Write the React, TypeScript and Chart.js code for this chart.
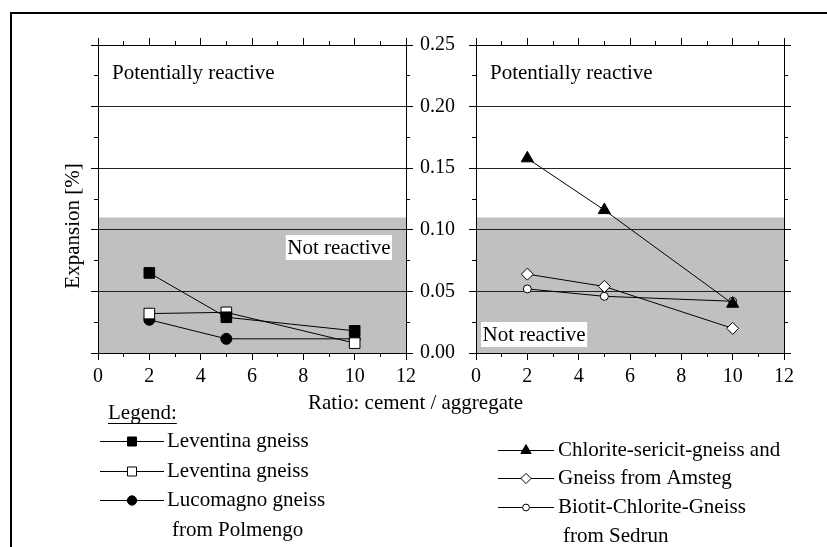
import React, { useEffect, useRef } from 'react';
import { Chart, registerables } from 'chart.js';
import { drawPoint } from 'chart.js/helpers';

Chart.register(...registerables);

// ---------- data ----------
const RATIOS = [2, 5, 10];

const LEVENTINA_FILLED = [0.065, 0.029, 0.018];
const LEVENTINA_OPEN = [0.032, 0.033, 0.008];
const LUCOMAGNO = [0.027, 0.0115, 0.0115];

const CHLORITE_SERICIT = [0.158, 0.116, 0.04];
const GNEISS_AMSTEG = [0.064, 0.054, 0.02];
const BIOTIT_SEDRUN = [0.052, 0.046, 0.042];

const LEFT_LABELS = [['Leventina gneiss'], ['Leventina gneiss'], ['Lucomagno gneiss', 'from Polmengo']];
const RIGHT_LABELS = [['Chlorite-sericit-gneiss and'], ['Gneiss from Amsteg'], ['Biotit-Chlorite-Gneiss', 'from Sedrun']];

const X_MIN = 0;
const X_MAX = 12;
const X_MAJOR = 2;
const X_MINOR = 1;
const Y_MIN = 0;
const Y_MAX = 0.25;
const Y_MAJOR = 0.05;
const Y_MINOR = 0.025;
const NOT_REACTIVE_LIMIT = 0.11;

const TEXT_REACTIVE = 'Potentially reactive';
const TEXT_NOT_REACTIVE = 'Not reactive';
const Y_TITLE = 'Expansion [%]';
const X_TITLE = 'Ratio: cement / aggregate';
const LEGEND_TITLE = 'Legend:';

// ---------- styling / layout ----------
const W = 827;
const H = 547;
const PLOT_TOP = 45;
const PLOT_BOTTOM = 353;
const FONT = '"Liberation Serif", "Times New Roman", serif';
const TICK_FONT_SIZE = 20;
const TEXT_FONT = `21px ${FONT}`;
const BAND = '#c0c0c0';
const GRID = '#222';

const zeroSize = (s: any) => {
  if (s.isHorizontal()) s.height = 0;
  else s.width = 0;
  s.paddingLeft = 0;
  s.paddingRight = 0;
  s.paddingTop = 0;
  s.paddingBottom = 0;
};

function axis(position: string, step: number, tickLength: number, labels: boolean, gridOnArea = false) {
  const horizontal = position === 'top' || position === 'bottom';
  return {
    type: 'linear',
    position,
    min: horizontal ? X_MIN : Y_MIN,
    max: horizontal ? X_MAX : Y_MAX,
    afterFit: zeroSize,
    grid: {
      display: true,
      drawOnChartArea: gridOnArea,
      drawTicks: true,
      tickLength,
      color: gridOnArea ? GRID : '#000',
      tickColor: '#000',
      lineWidth: 1,
    },
    border: { display: true, color: '#000', width: 1 },
    ticks: {
      display: labels,
      stepSize: step,
      autoSkip: false,
      maxRotation: 0,
      minRotation: 0,
      padding: horizontal ? 5 : 7,
      color: '#000',
      font: { family: FONT, size: TICK_FONT_SIZE },
      callback: (v: number) => (horizontal ? String(v) : v.toFixed(2)),
    },
  };
}

type Series = { labels: string[]; values: number[]; style: string; fill: string; radius: number };

type Panel = {
  left: number;
  right: number;
  series: Series[];
  yLabels: boolean;
  notReactive: 'upperRight' | 'lowerLeft';
  legend: { lineX0: number; lineX1: number; markerX: number; textX: number; contX: number; rows: number[]; contDy: number };
  decorations: boolean;
};

const LEFT_PANEL: Panel = {
  left: 98,
  right: 406,
  series: [
    { labels: LEFT_LABELS[0], values: LEVENTINA_FILLED, style: 'rect', fill: '#000', radius: 7.5 },
    { labels: LEFT_LABELS[1], values: LEVENTINA_OPEN, style: 'rect', fill: '#fff', radius: 7.5 },
    { labels: LEFT_LABELS[2], values: LUCOMAGNO, style: 'circle', fill: '#000', radius: 5.5 },
  ],
  yLabels: true,
  notReactive: 'upperRight',
  legend: { lineX0: 100, lineX1: 164, markerX: 132, textX: 167, contX: 172, rows: [441, 471, 500], contDy: 30 },
  decorations: true,
};

const RIGHT_PANEL: Panel = {
  left: 476,
  right: 784,
  series: [
    { labels: RIGHT_LABELS[0], values: CHLORITE_SERICIT, style: 'triangle', fill: '#000', radius: 7 },
    { labels: RIGHT_LABELS[1], values: GNEISS_AMSTEG, style: 'rectRot', fill: '#fff', radius: 6 },
    { labels: RIGHT_LABELS[2], values: BIOTIT_SEDRUN, style: 'circle', fill: '#fff', radius: 4 },
  ],
  yLabels: false,
  notReactive: 'lowerLeft',
  legend: { lineX0: 498, lineX1: 554, markerX: 526, textX: 558, contX: 563, rows: [450, 478, 507], contDy: 29 },
  decorations: false,
};

function makePlugin(panel: Panel) {
  return {
    id: 'panelDecor',
    afterLayout(chart: any) {
      // give labelled axes room so their tick labels are not clipped away
      const x = chart.scales.x;
      x.bottom = x.top + 50;
      const yr = chart.scales.yr;
      yr.right = yr.left + 80;
    },
    beforeDraw(chart: any) {
      const { ctx, chartArea } = chart;
      const y = chart.scales.y;
      const top = y.getPixelForValue(NOT_REACTIVE_LIMIT);
      const bottom = y.getPixelForValue(Y_MIN);
      ctx.save();
      ctx.fillStyle = BAND;
      ctx.fillRect(chartArea.left, top, chartArea.right - chartArea.left, bottom - top);
      ctx.restore();
    },
    afterDraw(chart: any) {
      const { ctx, chartArea } = chart;
      ctx.save();
      ctx.font = TEXT_FONT;
      ctx.fillStyle = '#000';
      ctx.textBaseline = 'middle';
      ctx.textAlign = 'left';
      // zone labels
      ctx.fillText(TEXT_REACTIVE, chartArea.left + 14, chartArea.top + 28);
      const tw = ctx.measureText(TEXT_NOT_REACTIVE).width;
      const bw = tw + 3;
      const bh = 25;
      let bx: number;
      let by: number;
      if (panel.notReactive === 'upperRight') {
        bx = chartArea.right - 14 - bw;
        by = chartArea.top + 190;
      } else {
        bx = chartArea.left + 5;
        by = chartArea.bottom - 6 - bh;
      }
      ctx.fillStyle = '#fff';
      ctx.fillRect(bx, by, bw, bh);
      ctx.fillStyle = '#000';
      ctx.fillText(TEXT_NOT_REACTIVE, bx + 1.5, by + bh / 2 + 1);

      // legend column
      const L = panel.legend;
      chart.data.datasets.forEach((ds: any, i: number) => {
        const ry = L.rows[i];
        ctx.strokeStyle = '#000';
        ctx.lineWidth = 1;
        ctx.beginPath();
        ctx.moveTo(L.lineX0, ry + 0.5);
        ctx.lineTo(L.lineX1, ry + 0.5);
        ctx.stroke();
        ctx.fillStyle = ds.pointBackgroundColor;
        ctx.strokeStyle = '#000';
        drawPoint(ctx, { pointStyle: ds.pointStyle, radius: ds.pointRadius * 0.85, borderWidth: 1, rotation: 0 }, L.markerX, ry + 0.5);
        ctx.fillStyle = '#000';
        const lines = panel.series[i].labels;
        lines.forEach((t, j) => {
          ctx.fillText(t, j === 0 ? L.textX : L.contX, ry + j * L.contDy);
        });
      });

      if (panel.decorations) {
        // frame
        ctx.strokeStyle = '#000';
        ctx.lineWidth = 2;
        ctx.beginPath();
        ctx.moveTo(W, 13);
        ctx.lineTo(11, 13);
        ctx.lineTo(11, H);
        ctx.stroke();
        // y title
        ctx.save();
        ctx.translate(73, 226);
        ctx.rotate(-Math.PI / 2);
        ctx.textAlign = 'center';
        ctx.fillText(Y_TITLE, 0, 0);
        ctx.restore();
        // x title
        ctx.textAlign = 'left';
        ctx.fillText(X_TITLE, 308, 403);
        // legend title
        ctx.fillText(LEGEND_TITLE, 108, 413);
        const lw = ctx.measureText(LEGEND_TITLE).width;
        ctx.lineWidth = 1;
        ctx.beginPath();
        ctx.moveTo(108, 423.5);
        ctx.lineTo(108 + lw, 423.5);
        ctx.stroke();
      }
      ctx.restore();
    },
  };
}

function buildConfig(panel: Panel): any {
  return {
    type: 'line',
    data: {
      datasets: panel.series.map((s) => ({
        label: s.labels.join(' '),
        data: RATIOS.map((x, i) => ({ x, y: s.values[i] })),
        borderColor: '#000',
        borderWidth: 1,
        pointStyle: s.style,
        pointRadius: s.radius,
        pointBackgroundColor: s.fill,
        pointBorderColor: '#000',
        pointBorderWidth: 1,
        fill: false,
        tension: 0,
        xAxisID: 'x',
        yAxisID: 'y',
      })),
    },
    options: {
      responsive: false,
      animation: false,
      events: [],
      devicePixelRatio: 1,
      layout: {
        padding: { left: panel.left, right: W - panel.right, top: PLOT_TOP, bottom: H - PLOT_BOTTOM },
      },
      plugins: { legend: { display: false }, tooltip: { enabled: false }, title: { display: false } },
      scales: {
        x: axis('bottom', X_MAJOR, 7, true),
        xb2: axis('bottom', X_MINOR, 4, false),
        xt: axis('top', X_MAJOR, 7, false),
        xt2: axis('top', X_MINOR, 4, false),
        y: axis('left', Y_MAJOR, 7, false, true),
        yl2: axis('left', Y_MINOR, 4, false),
        yr: axis('right', Y_MAJOR, 7, panel.yLabels),
        yr2: axis('right', Y_MINOR, 4, false),
      },
    },
    plugins: [makePlugin(panel)],
  };
}

export default function App() {
  const leftRef = useRef<HTMLCanvasElement>(null);
  const rightRef = useRef<HTMLCanvasElement>(null);
  useEffect(() => {
    const a = new Chart(leftRef.current as HTMLCanvasElement, buildConfig(LEFT_PANEL));
    const b = new Chart(rightRef.current as HTMLCanvasElement, buildConfig(RIGHT_PANEL));
    return () => {
      a.destroy();
      b.destroy();
    };
  }, []);
  const cs: React.CSSProperties = { position: 'absolute', left: 0, top: 0, width: W, height: H };
  return (
    <div style={{ position: 'absolute', left: 0, top: 0, width: W, height: H, background: '#fff' }}>
      <canvas ref={leftRef} width={W} height={H} style={cs} />
      <canvas ref={rightRef} width={W} height={H} style={cs} />
    </div>
  );
}
